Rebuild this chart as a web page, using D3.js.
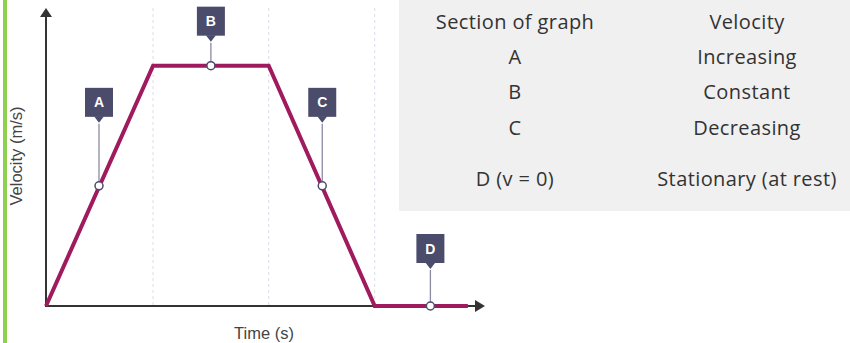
<!DOCTYPE html>
<html>
<head>
<meta charset="utf-8">
<script src="https://cdn.jsdelivr.net/npm/d3@7"></script>
<style>
  body { margin: 0; background: #fff; }
  svg { display: block; }
</style>
</head>
<body>
<div id="chart"></div>
<script>
// velocity-time trace (time units, velocity units)
const times = [0, 1, 2.08, 3.07, 3.94];
const velocities = [0, 10, 10, 0, 0];
// labelled sections
const markerLabels = ["A", "B", "C", "D"];
const markerTimes = [0.495, 1.54, 2.58, 3.59];
const markerVelocities = [5, 10, 5, 0];
// dotted guides at the section boundaries
const guideTimes = [1, 2.08, 3.07];
// table rows
const tableHeaders = ["Section of graph", "Velocity"];
const tableSections = ["A", "B", "C", "D (v = 0)"];
const tableVelocity = ["Increasing", "Constant", "Decreasing", "Stationary (at rest)"];

const width = 850, height = 343;
const svg = d3.select("#chart").append("svg")
    .attr("width", width)
    .attr("height", height);

const x = d3.scaleLinear().domain([0, 4.1]).range([46, 485]);
const y = d3.scaleLinear().domain([0, 12.4]).range([306, 8]);

// how far each flag sits above its point (px)
const flagLift = { A: 98, B: 59, C: 98, D: 72 };

// green side bar
svg.append("rect")
    .attr("x", 3).attr("y", 0)
    .attr("width", 4).attr("height", height)
    .attr("fill", "#8dd14f");

// dotted guides
svg.selectAll(".guide")
    .data(guideTimes)
    .join("line")
    .attr("class", "guide")
    .attr("x1", d => x(d)).attr("x2", d => x(d))
    .attr("y1", y(12.4)).attr("y2", y(0))
    .attr("stroke", "#dcdce6")
    .attr("stroke-width", 1)
    .attr("stroke-dasharray", "3,3");

// axes
const axisColor = "#333";
svg.append("line")
    .attr("x1", x(0)).attr("x2", x(0))
    .attr("y1", y(0) + 1).attr("y2", y(12.4) + 8)
    .attr("stroke", axisColor).attr("stroke-width", 2);
svg.append("path")
    .attr("d", `M${x(0)},${y(12.4)} l-6,9 l12,0 z`)
    .attr("fill", axisColor);
svg.append("line")
    .attr("x1", x(0) - 1).attr("x2", x(4.1) - 8)
    .attr("y1", y(0)).attr("y2", y(0))
    .attr("stroke", axisColor).attr("stroke-width", 2);
svg.append("path")
    .attr("d", `M${x(4.1)},${y(0)} l-10,-6 l0,12 z`)
    .attr("fill", axisColor);

// axis titles
svg.append("text")
    .attr("transform", `translate(22,${156}) rotate(-90)`)
    .attr("text-anchor", "middle")
    .attr("font-family", "Liberation Sans, Arial, sans-serif")
    .attr("font-size", 16.5)
    .attr("fill", "#444")
    .text("Velocity (m/s)");
svg.append("text")
    .attr("x", 264).attr("y", 339)
    .attr("text-anchor", "middle")
    .attr("font-family", "Liberation Sans, Arial, sans-serif")
    .attr("font-size", 16.5)
    .attr("fill", "#444")
    .text("Time (s)");

// the trace
const line = d3.line()
    .x(d => x(d[0]))
    .y(d => y(d[1]));
svg.append("path")
    .datum(d3.zip(times, velocities))
    .attr("d", line)
    .attr("fill", "none")
    .attr("stroke", "#a01b5e")
    .attr("stroke-width", 4)
    .attr("stroke-linejoin", "miter");

// markers with flag labels
const boxColor = "#4b4b6b";
const markers = markerLabels.map((label, i) => ({
    label, t: markerTimes[i], v: markerVelocities[i], lift: flagLift[label]
}));
const mg = svg.selectAll(".marker")
    .data(markers)
    .join("g")
    .attr("class", "marker")
    .attr("transform", d => `translate(${x(d.t)},${y(d.v)})`);

mg.append("line")
    .attr("x1", 0).attr("x2", 0)
    .attr("y1", d => -d.lift + 36).attr("y2", 0)
    .attr("stroke", "#8a8aa2")
    .attr("stroke-width", 1.3);
mg.append("rect")
    .attr("x", -14).attr("y", d => -d.lift)
    .attr("width", 28).attr("height", 29)
    .attr("fill", boxColor);
mg.append("path")
    .attr("d", d => `M-5,${-d.lift + 28.5} L0,${-d.lift + 35} L5,${-d.lift + 28.5} Z`)
    .attr("fill", boxColor);
mg.append("text")
    .attr("x", 0).attr("y", d => -d.lift + 19.5)
    .attr("text-anchor", "middle")
    .attr("font-family", "Liberation Sans, Arial, sans-serif")
    .attr("font-weight", "bold")
    .attr("font-size", 14)
    .attr("fill", "#fff")
    .text(d => d.label);
mg.append("circle")
    .attr("r", 4)
    .attr("fill", "#fff")
    .attr("stroke", boxColor)
    .attr("stroke-width", 1.5);

// table panel
svg.append("rect")
    .attr("x", 399).attr("y", 0)
    .attr("width", width - 399).attr("height", 211)
    .attr("fill", "#f0f0f0");

const rowY = [29, 64, 99, 135, 186];
const colX = [515, 747];
const tableFont = "Open Sans, Noto Sans, sans-serif";
const rows = [tableHeaders].concat(tableSections.map((s, i) => [s, tableVelocity[i]]));

svg.selectAll(".row")
    .data(rows)
    .join("g")
    .attr("class", "row")
    .attr("transform", (d, i) => `translate(0,${rowY[i]})`)
    .selectAll("text")
    .data(d => d)
    .join("text")
    .attr("x", (d, i) => colX[i])
    .attr("text-anchor", "middle")
    .attr("font-family", tableFont)
    .attr("font-size", 20)
    .attr("letter-spacing", 0.4)
    .attr("fill", "#333")
    .text(d => d);
</script>
</body>
</html>
